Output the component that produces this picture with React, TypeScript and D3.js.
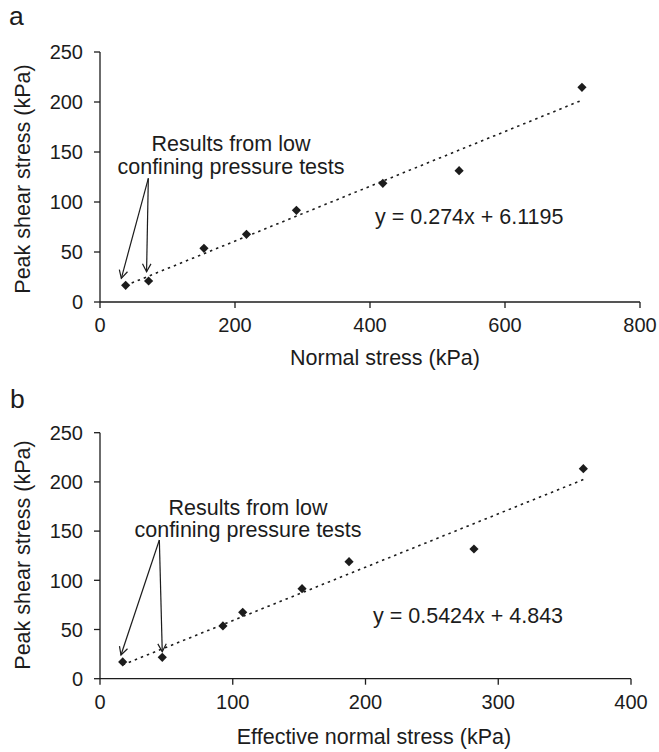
import React from "react";
import * as d3 from "d3";

const normalStress = [38, 72, 154, 217, 291, 419, 532, 714];
const peakShearA = [16.7, 21, 53.7, 67.7, 91.7, 118.7, 131.3, 214.7];
const effNormalStress = [17.1, 46.9, 92.6, 107.5, 152.2, 187.6, 281.7, 364.1];
const peakShearB = [17, 21.7, 53.6, 67.5, 91.5, 118.9, 131.8, 213.4];
const xTicksA = [0, 200, 400, 600, 800];
const xTicksB = [0, 100, 200, 300, 400];
const yTicks = [0, 50, 100, 150, 200, 250];
const fitA = { slope: 0.274, intercept: 6.1195, label: "y = 0.274x + 6.1195" };
const fitB = { slope: 0.5424, intercept: 4.843, label: "y = 0.5424x + 4.843" };
const annotationLines = ["Results from low", "confining pressure tests"];

const FONT = "'Liberation Sans', Arial, Helvetica, sans-serif";
const INK = "#1c1c1c";
const FS = 21.5;
const TFS = 20;

type PanelProps = {
  letter: string;
  xs: number[];
  ys: number[];
  xTicks: number[];
  xMax: number;
  xRange: [number, number];
  yRange: [number, number];
  fit: { slope: number; intercept: number; label: string };
  xTitle: string;
  xTitlePos: [number, number];
  yTitleY: number;
  letterPos: [number, number];
  eqPos: [number, number];
  annoPos: [number, number];
  arrowTail: [number, number];
  arrowTips: [number, number][];
};

function Arrow({ x1, y1, x2, y2 }: { x1: number; y1: number; x2: number; y2: number }) {
  const ang = Math.atan2(y2 - y1, x2 - x1);
  const L = 9;
  const a = (28 * Math.PI) / 180;
  const p1 = [x2 - L * Math.cos(ang - a), y2 - L * Math.sin(ang - a)];
  const p2 = [x2 - L * Math.cos(ang + a), y2 - L * Math.sin(ang + a)];
  return (
    <g stroke={INK} strokeWidth={1.2} fill="none">
      <line x1={x1} y1={y1} x2={x2} y2={y2} />
      <polyline points={`${p1[0]},${p1[1]} ${x2},${y2} ${p2[0]},${p2[1]}`} />
    </g>
  );
}

function Panel(p: PanelProps) {
  const x = d3.scaleLinear().domain([0, p.xMax]).range(p.xRange);
  const y = d3.scaleLinear().domain([0, 250]).range(p.yRange);
  const x0 = d3.min(p.xs)!;
  const x1 = d3.max(p.xs)!;
  const line = d3
    .line<number>()
    .x((d) => x(d))
    .y((d) => y(p.fit.slope * d + p.fit.intercept));
  const r = 4.6;
  const diamond = `M0,${-r}L${r},0L0,${r}L${-r},0Z`;
  const [ax, ay] = p.arrowTail;
  return (
    <g fontFamily={FONT} fill={INK}>
      <text x={p.letterPos[0]} y={p.letterPos[1]} fontSize={26.5}>
        {p.letter}
      </text>
      <line x1={p.xRange[0]} x2={p.xRange[0]} y1={p.yRange[0]} y2={p.yRange[1]} stroke={INK} strokeWidth={1.3} />
      <line x1={p.xRange[0]} x2={p.xRange[1]} y1={p.yRange[0]} y2={p.yRange[0]} stroke={INK} strokeWidth={1.3} />
      {yTicks.map((t) => (
        <g key={"y" + t}>
          <line x1={p.xRange[0] - 6} x2={p.xRange[0]} y1={y(t)} y2={y(t)} stroke={INK} strokeWidth={1.3} />
          <text x={p.xRange[0] - 17} y={y(t)} dy="0.36em" textAnchor="end" fontSize={TFS}>
            {t}
          </text>
        </g>
      ))}
      {p.xTicks.map((t) => (
        <g key={"x" + t}>
          <line x1={x(t)} x2={x(t)} y1={p.yRange[0]} y2={p.yRange[0] + 6} stroke={INK} strokeWidth={1.3} />
          <text x={x(t)} y={p.yRange[0] + 23} dy="0.36em" textAnchor="middle" fontSize={TFS}>
            {t}
          </text>
        </g>
      ))}
      <text x={p.xTitlePos[0]} y={p.xTitlePos[1]} dy="0.36em" textAnchor="middle" fontSize={FS}>
        {p.xTitle}
      </text>
      <text
        transform={`translate(22,${p.yTitleY}) rotate(-90)`}
        dy="0.36em"
        textAnchor="middle"
        fontSize={FS}
      >
        Peak shear stress (kPa)
      </text>
      <path d={line([x0, x1]) || ""} stroke={INK} strokeWidth={1.6} strokeDasharray="2.5 4" fill="none" />
      {p.xs.map((d, i) => (
        <path key={i} d={diamond} transform={`translate(${x(d)},${y(p.ys[i])})`} fill={INK} />
      ))}
      <text x={p.eqPos[0]} y={p.eqPos[1]} dy="0.36em" fontSize={FS}>
        {p.fit.label}
      </text>
      {annotationLines.map((s, i) => (
        <text key={i} x={p.annoPos[0]} y={p.annoPos[1] + i * 22.5} dy="0.36em" textAnchor="middle" fontSize={FS}>
          {s}
        </text>
      ))}
      {p.arrowTips.map((tip, i) => (
        <Arrow key={i} x1={x(ax)} y1={y(ay)} x2={x(tip[0])} y2={y(tip[1])} />
      ))}
    </g>
  );
}

export default function App() {
  return (
    <svg width={659} height={752} style={{ position: "absolute", left: 0, top: 0, background: "#fff" }}>
      <rect width={659} height={752} fill="#fff" />
      <Panel
        letter="a"
        xs={normalStress}
        ys={peakShearA}
        xTicks={xTicksA}
        xMax={800}
        xRange={[100, 640]}
        yRange={[302, 52]}
        fit={fitA}
        xTitle="Normal stress (kPa)"
        xTitlePos={[385, 357]}
        yTitleY={179}
        letterPos={[9, 25]}
        eqPos={[375, 216]}
        annoPos={[231, 143.5]}
        arrowTail={[71.6, 123.7]}
        arrowTips={[
          [31.6, 23.7],
          [69, 30.3],
        ]}
      />
      <Panel
        letter="b"
        xs={effNormalStress}
        ys={peakShearB}
        xTicks={xTicksB}
        xMax={400}
        xRange={[100, 631]}
        yRange={[678.7, 432.7]}
        fit={fitB}
        xTitle="Effective normal stress (kPa)"
        xTitlePos={[374, 736]}
        yTitleY={555}
        letterPos={[10, 408]}
        eqPos={[373, 615]}
        annoPos={[248, 507]}
        arrowTail={[44.7, 141]}
        arrowTips={[
          [15.8, 24.1],
          [46.9, 27.4],
        ]}
      />
    </svg>
  );
}
